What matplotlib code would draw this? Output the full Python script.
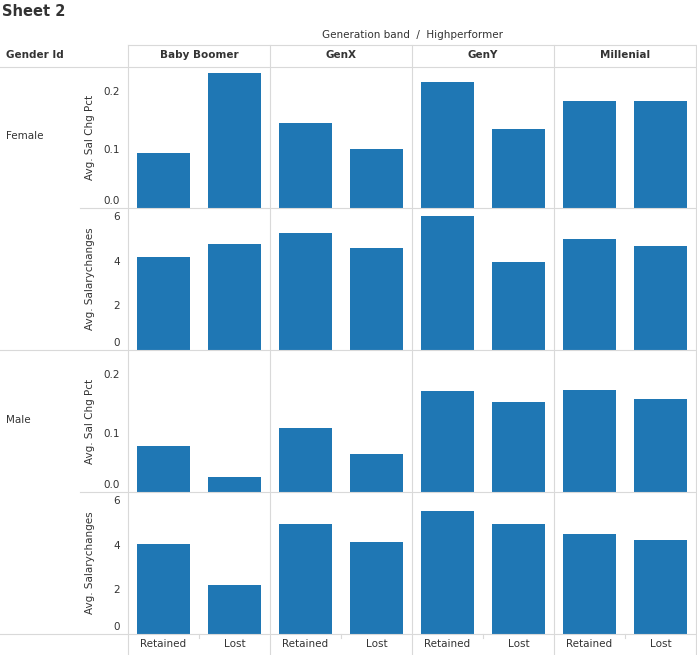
import matplotlib.pyplot as plt
from matplotlib.lines import Line2D

W, H = 697, 655

generations = ["Baby Boomer", "GenX", "GenY", "Millenial"]
performers = ["Retained", "Lost"]
genders = ["Female", "Male"]
measures = ["Avg. Sal Chg Pct", "Avg. Salarychanges"]

# values[gender][measure][generation] = [Retained, Lost]
female_sal_chg_pct = [[0.094, 0.233], [0.146, 0.101], [0.217, 0.136], [0.184, 0.184]]
female_salarychanges = [[4.2, 4.8], [5.3, 4.6], [6.05, 4.0], [5.0, 4.7]]
male_sal_chg_pct = [[0.079, 0.025], [0.109, 0.065], [0.172, 0.154], [0.175, 0.160]]
male_salarychanges = [[4.05, 2.2], [4.97, 4.15], [5.57, 4.97], [4.5, 4.24]]

rows = [
    (female_sal_chg_pct, measures[0], (0, 0.243), [0.0, 0.1, 0.2]),
    (female_salarychanges, measures[1], (0, 6.42), [0, 2, 4, 6]),
    (male_sal_chg_pct, measures[0], (0, 0.243), [0.0, 0.1, 0.2]),
    (male_salarychanges, measures[1], (0, 6.42), [0, 2, 4, 6]),
]

BAR = "#1f77b4"
TXT = "#333333"
LINE = "#d9d9d9"
plt.rcParams["font.family"] = "DejaVu Sans"


def fx(x):
    return x / W


def fy(y):
    return 1 - y / H


def hline(y, x0, x1, color=LINE):
    fig.add_artist(Line2D([fx(x0), fx(x1)], [fy(y), fy(y)], color=color, lw=0.8))


def vline(x, y0, y1, color=LINE):
    fig.add_artist(Line2D([fx(x), fx(x)], [fy(y0), fy(y1)], color=color, lw=0.8))


fig = plt.figure(figsize=(W / 100, H / 100), dpi=100)

fig.text(fx(2), fy(12), "Sheet 2", fontsize=10.5, fontweight="bold", color=TXT, va="center")
fig.text(fx(412), fy(35), "Generation band  /  Highperformer", fontsize=7.5, color=TXT,
         ha="center", va="center")
fig.text(fx(6), fy(55), "Gender Id", fontsize=7.5, fontweight="bold", color=TXT, va="center")

col_x = [128, 270, 412, 554, 696]
row_y = [67, 208, 350, 492, 634]

for i, g in enumerate(generations):
    fig.text(fx((col_x[i] + col_x[i + 1]) / 2), fy(55), g, fontsize=7.5, fontweight="bold",
             color=TXT, ha="center", va="center")

for r, (data, label, ylim, ticks) in enumerate(rows):
    top, bottom = row_y[r], row_y[r + 1]
    for c in range(4):
        ax = fig.add_axes([fx(col_x[c]), fy(bottom), fx(col_x[c + 1] - col_x[c]),
                           (bottom - top) / H])
        ax.bar([0, 1], data[c], width=0.75, color=BAR)
        ax.set_xlim(-0.5, 1.5)
        ax.set_ylim(*ylim)
        ax.axis("off")
    for t in ticks:
        ypix = bottom - (t - ylim[0]) / (ylim[1] - ylim[0]) * (bottom - top)
        ypix = min(max(ypix, top + 6), bottom - 7)
        lab = f"{t:.1f}" if isinstance(t, float) else str(t)
        fig.text(fx(120), fy(ypix), lab, fontsize=7.5, color=TXT, ha="right", va="center")
    fig.text(fx(90), fy((top + bottom) / 2), label, fontsize=7.5, color=TXT, rotation=90,
             ha="center", va="center")

fig.text(fx(6), fy(136), genders[0], fontsize=7.5, color=TXT, va="center")
fig.text(fx(6), fy(420), genders[1], fontsize=7.5, color=TXT, va="center")

for c in range(4):
    for k, p in enumerate(performers):
        xc = col_x[c] + (col_x[c + 1] - col_x[c]) * (0.25 + 0.5 * k)
        fig.text(fx(xc), fy(644), p, fontsize=7.5, color=TXT, ha="center", va="center")
    vline((col_x[c] + col_x[c + 1]) / 2, 634, 638)

# grid lines
hline(45, 128, 696)
hline(67, 0, 696)
hline(208, 80, 696)
hline(350, 0, 696)
hline(492, 80, 696)
hline(634, 0, 696)
for x in col_x:
    vline(x, 45, 655)

fig.savefig("out.png", dpi=100)
